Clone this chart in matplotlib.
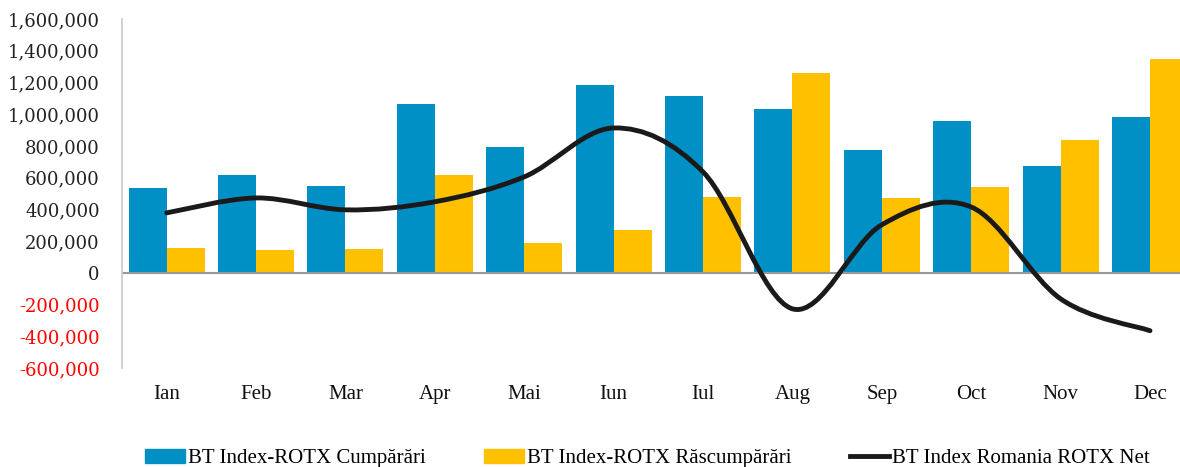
import matplotlib.pyplot as plt
import numpy as np
from matplotlib.path import Path
from matplotlib.patches import PathPatch, Patch
from matplotlib.lines import Line2D
from matplotlib.font_manager import FontProperties

# data
luni = ['Ian', 'Feb', 'Mar', 'Apr', 'Mai', 'Iun', 'Iul', 'Aug', 'Sep', 'Oct', 'Nov', 'Dec']
cumparari = [535000, 617000, 548000, 1065000, 794000, 1184000, 1115000, 1033000, 775000, 957000, 674000, 983000]
rascumparari = [157000, 145000, 151000, 617000, 189000, 271000, 479000, 1260000, 472000, 542000, 838000, 1348000]
net = [378000, 472000, 397000, 448000, 605000, 913000, 636000, -227000, 303000, 415000, -164000, -365000]

blue = '#0090C5'
yellow = '#FFC000'

fig = plt.figure(figsize=(11.8, 4.67), dpi=100)
ax = fig.add_axes([122/1180, 1-368/467, (1194.7-122)/1180, (368-19)/467])

x = np.arange(len(luni))
w = 0.425
ax.bar(x - w/2, cumparari, w, color=blue, zorder=2)
ax.bar(x + w/2, rascumparari, w, color=yellow, zorder=2)

# smoothed line (Catmull-Rom like Excel)
pts = np.column_stack([x, net]).astype(float)
verts = [tuple(pts[0])]
codes = [Path.MOVETO]
n = len(pts)
for i in range(n - 1):
    p0 = pts[max(i - 1, 0)]
    p1 = pts[i]
    p2 = pts[i + 1]
    p3 = pts[min(i + 2, n - 1)]
    c1 = p1 + (p2 - p0) / 6
    c2 = p2 - (p3 - p1) / 6
    verts += [tuple(c1), tuple(c2), tuple(p2)]
    codes += [Path.CURVE4] * 3
ax.add_patch(PathPatch(Path(verts, codes), fill=False, edgecolor='#1a1a1a', lw=3.5,
                       capstyle='round', zorder=3))

yt = np.arange(-600000, 1600001, 200000)
ax.set_xlim(-0.5, 11.5)
ax.set_ylim(-600000, 1600000)
ax.set_yticks(yt)
ax.set_yticklabels([f'{v:,}' for v in yt], family='DejaVu Serif', fontsize=13)
for t, v in zip(ax.get_yticklabels(), yt):
    t.set_color('#FF0000' if v < 0 else '#222222')
ax.set_xticks(x)
ax.set_xticklabels(luni, family='Liberation Serif', fontsize=15, color='#111111')
ax.tick_params(axis='y', length=0, pad=16)
ax.tick_params(axis='x', length=0, pad=12)

for s in ['top', 'right', 'bottom']:
    ax.spines[s].set_visible(False)
ax.spines['left'].set_color('#c8c8c8')
ax.spines['left'].set_linewidth(1.2)
ax.axhline(0, color='#999999', lw=1.5, zorder=2.5)

handles = [Patch(color=blue), Patch(color=yellow), Line2D([], [], color='#1a1a1a', lw=3.5)]
labels = ['BT Index-ROTX Cumpărări', 'BT Index-ROTX Răscumpărări', 'BT Index Romania ROTX Net']
ax.legend(handles, labels, loc='center', bbox_to_anchor=(0.49, -0.26), ncol=3, frameon=False,
          prop=FontProperties(family='Liberation Serif', size=15), handlelength=1.9, handleheight=0.6,
          handletextpad=0.15, columnspacing=2.8)

fig.savefig('out.png', dpi=100)
